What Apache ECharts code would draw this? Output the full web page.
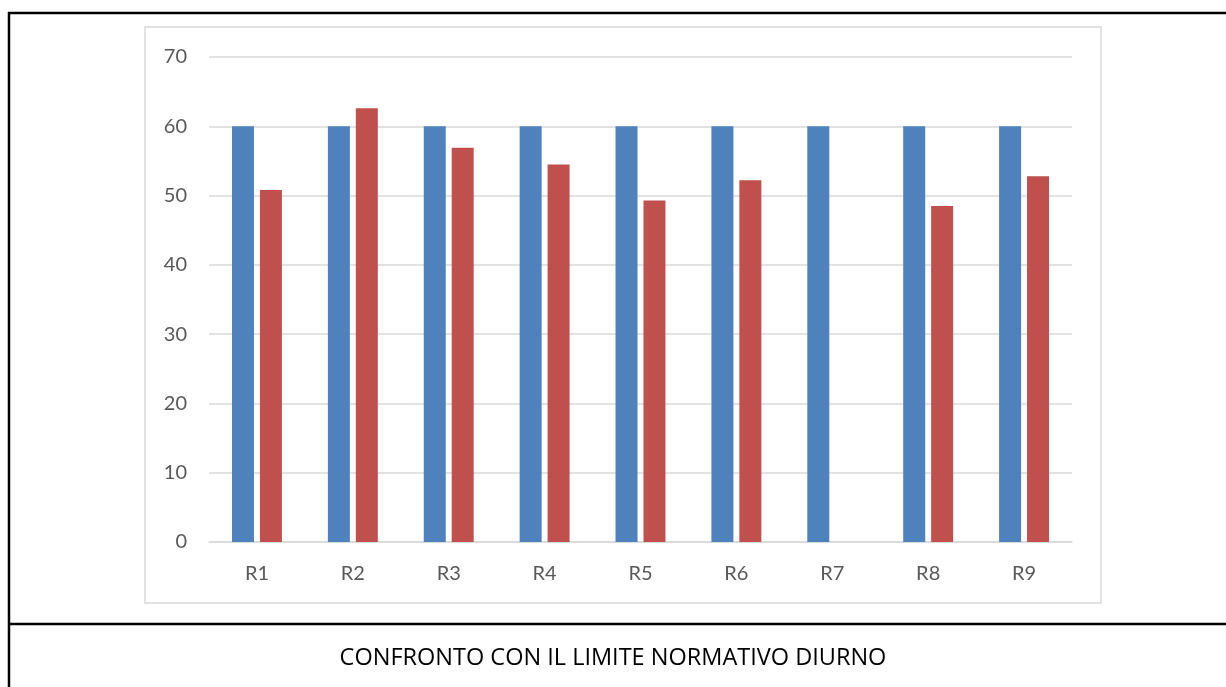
<!DOCTYPE html>
<html>
<head>
<meta charset="utf-8">
<title>Confronto con il limite normativo diurno</title>
<script src="https://cdn.jsdelivr.net/npm/echarts@6/dist/echarts.min.js"></script>
<style>
  html, body { margin: 0; padding: 0; background: #fff; }
  #chart { width: 1226px; height: 687px; }
</style>
</head>
<body>
<div id="chart"></div>
<script>
// dati
const categories = ['R1', 'R2', 'R3', 'R4', 'R5', 'R6', 'R7', 'R8', 'R9']
const limiteDiurno = [60, 60, 60, 60, 60, 60, 60, 60, 60]
const misurato = [50.8, 62.6, 56.9, 54.5, 49.3, 52.2, null, 48.5, 52.8]
const yTicks = [0, 10, 20, 30, 40, 50, 60, 70]

const labelFont = 'Lato, "Open Sans", "Liberation Sans", sans-serif'
const chart = echarts.init(document.getElementById('chart'))

chart.setOption({
  animation: false,
  grid: { left: 209, right: 154, top: 57, bottom: 145 },
  xAxis: {
    type: 'category',
    data: categories,
    axisTick: { show: false },
    axisLine: { lineStyle: { color: '#d9d9d9', width: 1.5 } },
    axisLabel: { color: '#595959', fontSize: 20, fontFamily: labelFont, margin: 22 }
  },
  yAxis: {
    type: 'value',
    min: yTicks[0],
    max: yTicks[yTicks.length - 1],
    interval: 10,
    axisLine: { show: false },
    axisTick: { show: false },
    splitLine: { lineStyle: { color: '#d9d9d9', width: 1.5 } },
    axisLabel: { color: '#595959', fontSize: 20, fontFamily: labelFont, margin: 22 }
  },
  series: [
    {
      name: 'Limite',
      type: 'bar',
      data: limiteDiurno,
      barWidth: 22,
      barGap: '27%',
      itemStyle: { color: '#4f81bd' }
    },
    {
      name: 'Misurato',
      type: 'bar',
      data: misurato,
      barWidth: 22,
      itemStyle: { color: '#c0504d' }
    }
  ],
  graphic: [
    // riquadro del grafico
    { type: 'rect', shape: { x: 145, y: 27, width: 956, height: 576 },
      style: { fill: null, stroke: '#d9d9d9', lineWidth: 1.5 }, z: -1 },
    // bordi della tabella
    { type: 'line', shape: { x1: 8, y1: 13, x2: 1226, y2: 13 }, style: { stroke: '#000', lineWidth: 2.5 } },
    { type: 'line', shape: { x1: 9, y1: 12, x2: 9, y2: 687 }, style: { stroke: '#000', lineWidth: 2.5 } },
    { type: 'line', shape: { x1: 8, y1: 624, x2: 1226, y2: 624 }, style: { stroke: '#000', lineWidth: 2.5 } },
    { type: 'text', left: 'center', top: 646,
      style: { text: 'CONFRONTO CON IL LIMITE NORMATIVO DIURNO', fill: '#000',
        font: '23.5px "Open Sans", "Noto Sans", sans-serif' } }
  ]
})
</script>
</body>
</html>
